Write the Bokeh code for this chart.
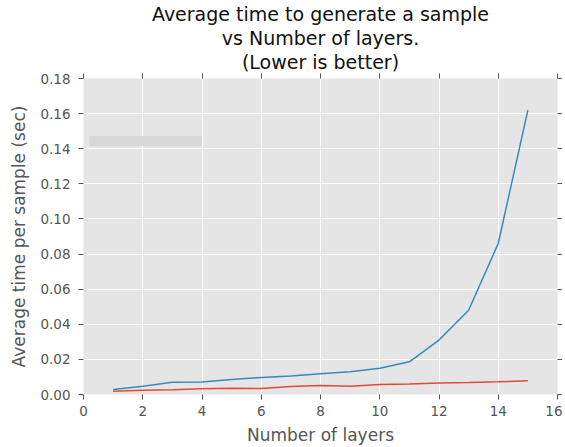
from bokeh.plotting import figure
from bokeh.models import LinearAxis, BoxAnnotation, Range1d, FixedTicker, NumeralTickFormatter, Title
from bokeh.embed import file_html
from bokeh.resources import INLINE

layers = list(range(1, 16))
time_blue = [0.0029, 0.0047, 0.0070, 0.0071, 0.0085, 0.0097, 0.0105, 0.0118, 0.0130, 0.0150,
             0.0186, 0.0310, 0.0480, 0.0860, 0.1620]
time_red = [0.0019, 0.0024, 0.0027, 0.0033, 0.0036, 0.0034, 0.0046, 0.0051, 0.0047, 0.0057,
            0.0060, 0.0065, 0.0068, 0.0072, 0.0078]
x_ticks = [0, 2, 4, 6, 8, 10, 12, 14, 16]
y_ticks = [0.0, 0.02, 0.04, 0.06, 0.08, 0.10, 0.12, 0.14, 0.16, 0.18]
title_lines = ["Average time to generate a sample", "vs Number of layers.", "(Lower is better)"]

FONT = "DejaVu Sans"
GREY = "#555555"
FRAME_W, FRAME_H = 474, 316

p = figure(frame_width=FRAME_W, frame_height=FRAME_H, output_backend="svg", toolbar_location=None,
           x_range=Range1d(0, 16), y_range=Range1d(0, 0.18),
           min_border_left=83, min_border_right=3, min_border_top=78, min_border_bottom=0,
           title=None)

p.background_fill_color = "#E5E5E5"
p.border_fill_color = "white"
p.outline_line_color = None

p.xgrid.grid_line_color = "white"
p.ygrid.grid_line_color = "white"
p.xgrid.ticker = FixedTicker(ticks=x_ticks)
p.ygrid.ticker = FixedTicker(ticks=y_ticks)

def style_axis(ax, labels=True):
    ax.axis_line_color = None
    ax.major_tick_line_color = GREY
    ax.major_tick_out = 5
    ax.major_tick_in = 0
    ax.minor_tick_line_color = None
    ax.major_label_text_font = FONT
    ax.major_label_text_font_size = "13.5px"
    ax.major_label_text_color = GREY
    ax.axis_label_text_font = FONT
    ax.axis_label_text_font_size = "17px"
    ax.axis_label_text_font_style = "normal"
    ax.axis_label_text_color = GREY
    if not labels:
        ax.major_label_text_font_size = "0px"
        ax.major_label_standoff = 0

p.xaxis.ticker = FixedTicker(ticks=x_ticks)
p.yaxis.ticker = FixedTicker(ticks=y_ticks)
p.yaxis.formatter = NumeralTickFormatter(format="0.00")
p.xaxis.axis_label = "Number of layers"
p.yaxis.axis_label = "Average time per sample (sec)"
style_axis(p.xaxis[0])
style_axis(p.yaxis[0])
p.xaxis.major_label_standoff = 6
p.yaxis.major_label_standoff = 8
p.xaxis.axis_label_standoff = 6
p.yaxis.axis_label_standoff = 8

top_ax = LinearAxis(ticker=FixedTicker(ticks=x_ticks))
style_axis(top_ax, labels=False)
p.add_layout(top_ax, "above")
right_ax = LinearAxis(ticker=FixedTicker(ticks=y_ticks))
style_axis(right_ax, labels=False)
p.add_layout(right_ax, "right")

standoffs = [1, 0, 0]
for line, so in zip(reversed(title_lines), standoffs):
    t = Title(text=line, align="center", text_font=FONT, text_font_size="19px",
              text_font_style="normal", text_color="#111111", offset=0, standoff=so)
    p.add_layout(t, "above")

p.line(layers, time_blue, line_color="#348ABD", line_width=1.5)
p.line(layers, time_red, line_color="#E24A33", line_width=1.5)

# faint empty legend box seen in the original
p.add_layout(BoxAnnotation(left=0.2, right=4.0, bottom=0.1415, top=0.1472,
                           fill_color="#D8D8D8", fill_alpha=1.0, line_color=None))

open("out.html", "w").write(file_html(p, INLINE))
